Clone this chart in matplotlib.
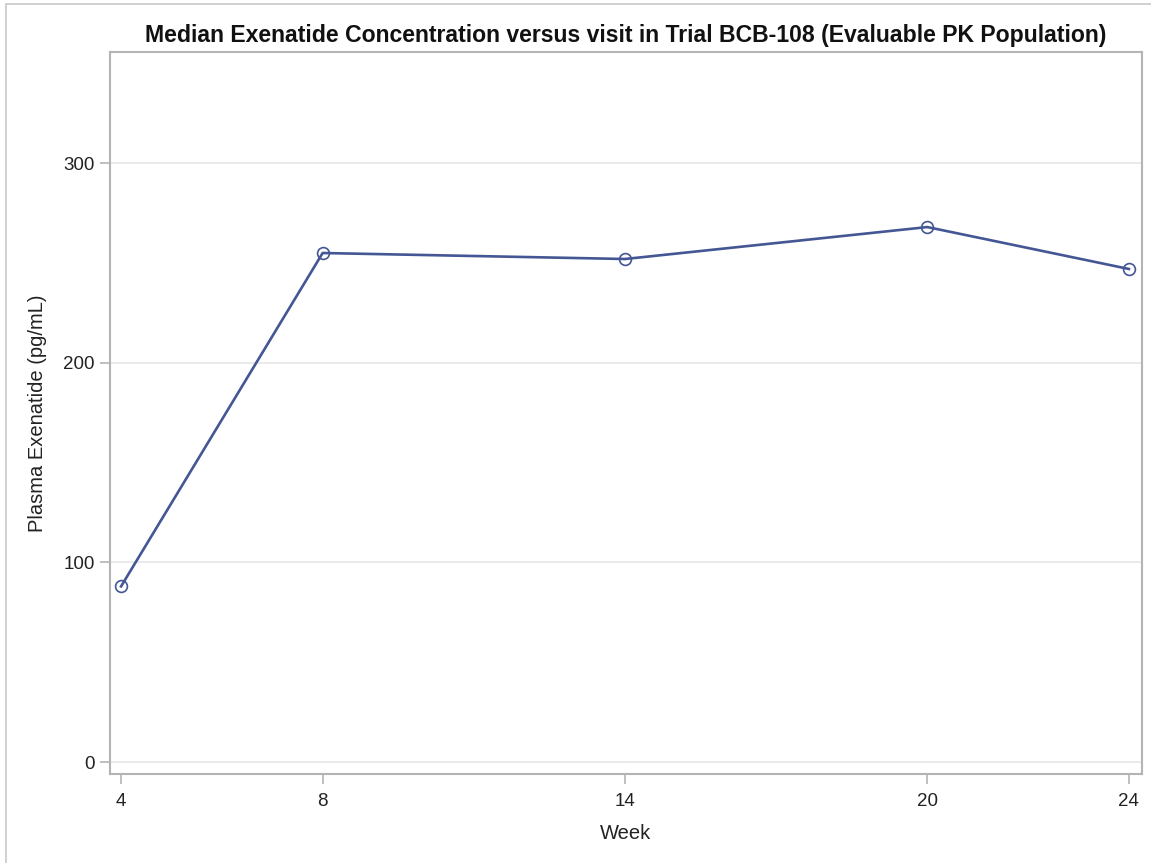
import matplotlib

matplotlib.use("Agg")
import matplotlib.pyplot as plt
from matplotlib.patches import Rectangle

# median plasma exenatide (pg/mL) by visit week
weeks = [4, 8, 14, 20, 24]
median_conc = [88, 255, 252, 268, 247]
y_ticks = [0, 100, 200, 300]

line_color = "#445694"
axis_color = "#b4b4b4"
grid_color = "#e6e6e6"

plt.rcParams["font.family"] = ["Liberation Sans", "DejaVu Sans"]

fig = plt.figure(figsize=(11.51, 8.63), dpi=100)
ax = fig.add_axes([110 / 1151, 89 / 863, 1032 / 1151, 722 / 863])

# outer frame of the exported graph (only left and top edges show)
fig.patches.append(
    Rectangle((6 / 1151, -0.05), 1.2, 1.05 - 4 / 863,
              transform=fig.transFigure, fill=False, edgecolor="#c8c8c8", linewidth=1.2)
)

ax.plot(weeks, median_conc, color=line_color, linewidth=1.9, marker="o",
        markersize=8.5, markerfacecolor="none", markeredgecolor=line_color,
        markeredgewidth=1.2, zorder=3)

ax.set_xlim(3.78, 24.26)
ax.set_ylim(-6, 355.7)
ax.set_xticks(weeks)
ax.set_yticks(y_ticks)
ax.grid(axis="y", color=grid_color, linewidth=1.2)
ax.set_axisbelow(True)

for s in ax.spines.values():
    s.set_color(axis_color)
    s.set_linewidth(1.5)

ax.tick_params(axis="both", direction="out", length=7, width=1.2, color=axis_color,
               labelsize=13.5, labelcolor="#222222", pad=4)
ax.tick_params(axis="x", pad=7)

ax.set_xlabel("Week", fontsize=14.5, color="#222222", labelpad=10)
ax.set_ylabel("Plasma Exenatide (pg/mL)", fontsize=14.5, color="#222222", labelpad=12)
ax.set_title("Median Exenatide Concentration versus visit in Trial BCB-108 (Evaluable PK Population)",
             fontsize=16.6, fontweight="bold", color="#111111", pad=7)

fig.savefig("out.png", dpi=100)
